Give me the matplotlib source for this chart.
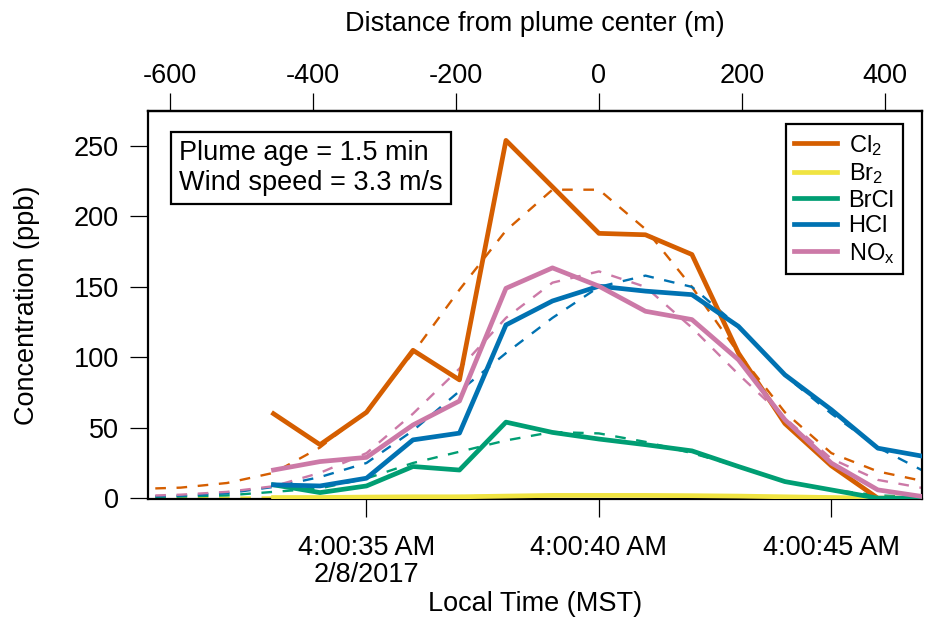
import numpy as np
import matplotlib
matplotlib.use("Agg")
import matplotlib.pyplot as plt

plt.rcParams['font.family'] = ['Liberation Sans', 'DejaVu Sans']
plt.rcParams['mathtext.fontset'] = 'custom'
plt.rcParams['mathtext.rm'] = 'Liberation Sans'
plt.rcParams['mathtext.it'] = 'Liberation Sans'
plt.rcParams['axes.unicode_minus'] = False

# seconds after 4:00:00 AM, 2/8/2017
t_meas = np.arange(33, 48)
cl2 = [60, 38, 61, 105, 84, 254, 221, 188, 187, 173, 103, 53, 23, 0, 0]
br2 = [0.5, 0.5, 0.8, 1, 1, 1.5, 2, 2, 2, 1.8, 1.5, 1, 0.5, 0, 0]
brcl = [9.5, 4, 8.7, 22.5, 20, 54, 46.7, 42, 38, 33.6, 22.5, 11.8, 5.9, 0, 0]
hcl = [9.5, 8.7, 14.2, 41.4, 46.2, 123, 140, 150.5, 147, 144.5, 122, 87.6, 62.8, 35.5, 29.6]
nox = [20, 26, 29, 52, 69, 149, 163.5, 150.5, 132.7, 126.8, 98.3, 55.7, 24.9, 5.9, 1]

# fitted curves (dashed)
t_fit = np.arange(30, 48)
cl2_fit = [6.5, 7.5, 10.8, 18, 36, 62, 103, 148, 190, 219, 219, 191, 150, 103, 61, 32, 19, 12]
br2_fit = [0.2, 0.3, 0.4, 0.6, 0.8, 1, 1.3, 1.5, 1.7, 1.8, 1.8, 1.7, 1.5, 1.2, 0.9, 0.6, 0.4, 0.3]
brcl_fit = [0.8, 1.2, 2, 4.5, 7, 14, 25, 33, 41, 47, 46, 40, 32, 22.5, 12, 6, 2, 0.8]
hcl_fit = [1, 1.8, 3.5, 8, 15, 25, 48, 76, 103, 128, 150, 158, 150, 122, 87, 60, 36, 19]
nox_fit = [1.5, 2.5, 4.5, 8.5, 18, 32, 60, 92, 128, 153, 161, 150, 121, 88, 57, 28, 13, 7]

names = ['Cl$_2$', 'Br$_2$', 'BrCl', 'HCl', 'NO$_x$']
colors = ['#D55E00', '#F0E442', '#009E73', '#0072B2', '#CC79A7']
meas = [cl2, br2, brcl, hcl, nox]
fits = [cl2_fit, br2_fit, brcl_fit, hcl_fit, nox_fit]

tick_t = [35, 40, 45]
tick_lbl = ['4:00:35 AM\n2/8/2017', '4:00:40 AM', '4:00:45 AM']
dist_ticks = [-600, -400, -200, 0, 200, 400]

fig = plt.figure(figsize=(9.25, 6.19), dpi=100)
ax = fig.add_axes([0.16, 0.194, 0.8368, 0.627])

for y, c in zip(fits, colors):
    ax.plot(t_fit, y, color=c, lw=1.7, dashes=(4.5, 4.5), zorder=2)
for y, c, n in zip(meas, colors, names):
    ax.plot(t_meas, y, color=c, lw=3.4, label=n, zorder=3)

ax.set_xlim(30.3, 46.95)
ax.set_ylim(-0.5, 275)
ax.set_yticks([0, 50, 100, 150, 200, 250])
ax.set_xticks(tick_t)
ax.set_xticklabels(tick_lbl, linespacing=1.05)
ax.tick_params(labelsize=19.5, length=13, width=0.9, pad=8, direction='out')
ax.tick_params(axis='x', pad=13)
for s in ax.spines.values():
    s.set_linewidth(1.6)

ax.set_ylabel('Concentration (ppb)', fontsize=19.5, labelpad=24)
ax.set_xlabel('Local Time (MST)', fontsize=19.5, labelpad=2.5)

# top axis: distance from plume center
sec = ax.secondary_xaxis('top', functions=(lambda t: (t - 40) * 65, lambda d: d / 65 + 40))
sec.set_xticks(dist_ticks)
sec.tick_params(labelsize=19.5, length=13, width=0.9, pad=3)
sec.spines['top'].set_linewidth(1.6)
sec.set_xlabel('Distance from plume center (m)', fontsize=19.5, labelpad=23)

ax.text(0.04, 0.925, 'Plume age = 1.5 min\nWind speed = 3.3 m/s', transform=ax.transAxes,
        fontsize=19.5, va='top', ha='left', linespacing=1.2,
        bbox=dict(boxstyle='square,pad=0.3', fc='white', ec='black', lw=1.6))

leg = ax.legend(loc='upper right', bbox_to_anchor=(0.975, 0.965), borderaxespad=0,
                fontsize=17, labelspacing=0.15, handlelength=1.8, handletextpad=0.5,
                borderpad=0.35, fancybox=False, framealpha=1, edgecolor='black')
leg.get_frame().set_linewidth(1.6)

fig.savefig('out.png', dpi=100)
